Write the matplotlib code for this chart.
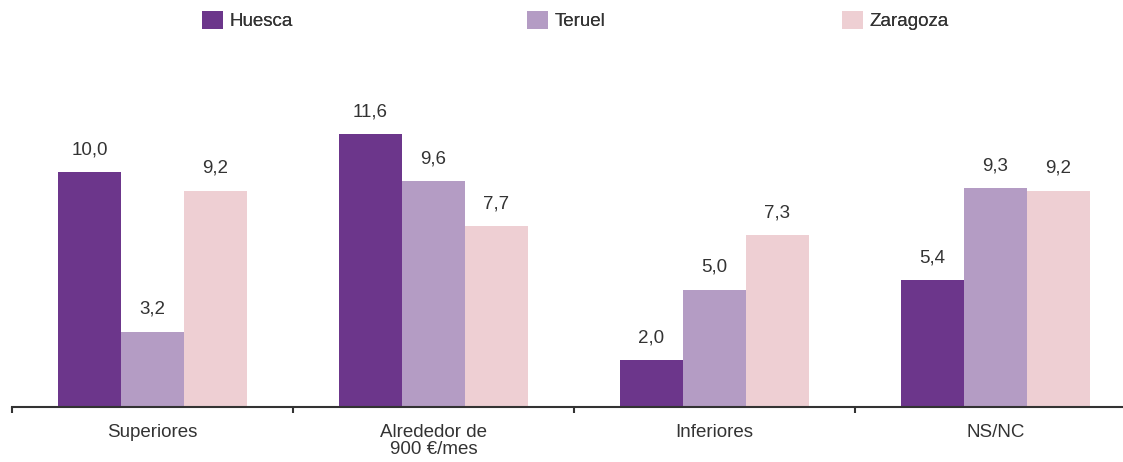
import numpy as np
import matplotlib
matplotlib.use("Agg")
import matplotlib.pyplot as plt
from matplotlib.patches import Patch

plt.rcParams["font.family"] = ["Liberation Sans Narrow", "Liberation Sans", "DejaVu Sans"]

# --- data -------------------------------------------------------------------
categories = ["Superiores", "Alrededor de\n900 €/mes", "Inferiores", "NS/NC"]
huesca   = [10.0, 11.6, 2.0, 5.4]
teruel   = [3.2, 9.6, 5.0, 9.3]
zaragoza = [9.2, 7.7, 7.3, 9.2]
series_names = ["Huesca", "Teruel", "Zaragoza"]
colors = ["#6C368B", "#B49CC4", "#EECFD3"]
legend_x = [202, 527, 842]   # left edge of each legend key, in pixels
text_col = "#333333"
fs = 13.5

# --- figure -----------------------------------------------------------------
fig = plt.figure(figsize=(11.23, 4.62), dpi=100)
ax = fig.add_axes([12 / 1123, 1 - 407 / 462, 1124 / 1123, 407 / 462])

x = np.arange(len(categories))
w = 0.224
for i, (vals, col) in enumerate(zip([huesca, teruel, zaragoza], colors)):
    bars = ax.bar(x + (i - 1) * w, vals, width=w, color=col, linewidth=0)
    ax.bar_label(bars, labels=[f"{v:.1f}".replace(".", ",") for v in vals],
                 padding=10, fontsize=fs, color=text_col)

ax.set_xlim(-0.5, len(categories) - 0.5)
ax.set_ylim(0, 17.32)

# group separators as outward ticks, category names on minor ticks
ax.set_xticks(np.arange(-0.5, len(categories), 1.0))
ax.set_xticklabels([])
ax.tick_params(axis="x", which="major", direction="out", length=4, width=1.5, color=text_col)
ax.set_xticks(x, minor=True)
ax.set_xticklabels(categories, minor=True, fontsize=fs, color=text_col, linespacing=1.0)
ax.tick_params(axis="x", which="minor", length=0, pad=12)

ax.set_yticks([])
for side in ["left", "right", "top"]:
    ax.spines[side].set_visible(False)
ax.spines["bottom"].set_color(text_col)
ax.spines["bottom"].set_linewidth(1.5)

# one legend per series so each key sits at its own spot along the top
for name, col, lx in zip(series_names, colors, legend_x):
    leg = fig.legend(handles=[Patch(facecolor=col, edgecolor="none", label=name)],
                     loc="upper left", bbox_to_anchor=(lx / 1123, 1 - 11 / 462),
                     borderaxespad=0, borderpad=0, handlelength=1.1, handleheight=1.1,
                     handletextpad=0.35, frameon=False, fontsize=fs, labelcolor=text_col)
    fig.add_artist(leg)

fig.savefig("out.png", dpi=100)
